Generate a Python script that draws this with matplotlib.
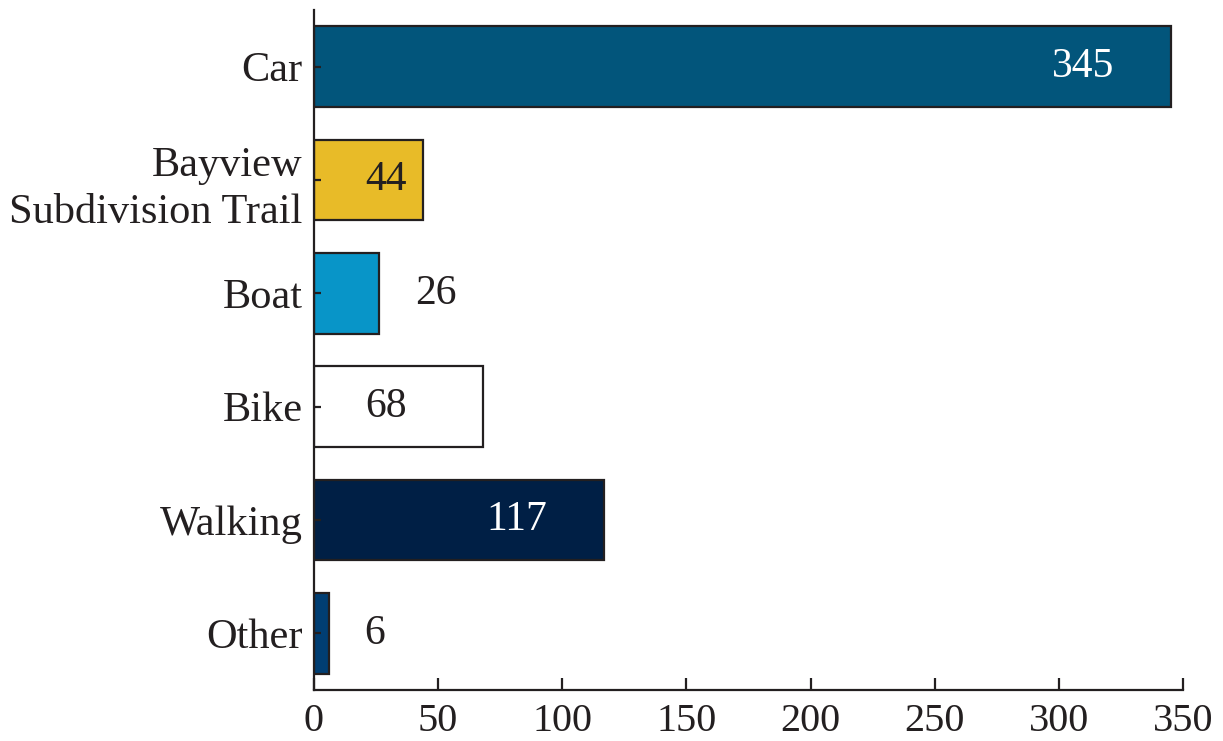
import matplotlib.pyplot as plt

# Data
categories = ["Car", "Bayview\nSubdivision Trail", "Boat", "Bike", "Walking", "Other"]
counts = [345, 44, 26, 68, 117, 6]
bar_colors = ["#02557B", "#E8BB28", "#0895C8", "#FFFFFF", "#001F45", "#003E73"]
text_colors = ["white", "#231f20", "#231f20", "#231f20", "white", "#231f20"]
# label offset from bar end, in pixels
label_offsets = [-87, -37, 57, -97, -88, 46]

plt.rcParams['font.family'] = ['Liberation Serif', 'DejaVu Serif']
ink = "#231f20"

fig = plt.figure(figsize=(12.23, 7.41), dpi=100)
ax = fig.add_axes([0.2567, 0.0688, 0.9673 - 0.2567, 0.9865 - 0.0688])

ypos = list(range(len(categories)))[::-1]
ax.barh(ypos, counts, height=0.71, color=bar_colors, edgecolor=ink, linewidth=1.6)

for y, v, c, off in zip(ypos, counts, text_colors, label_offsets):
    ax.annotate(str(v), xy=(v, y), xytext=(off * 0.72, 0), textcoords="offset points",
                ha="center", va="center", fontsize=30, color=c)

ax.set_xlim(0, 350)
ax.set_ylim(-0.5, 5.5)
ax.set_yticks(ypos)
ax.set_yticklabels(categories, fontsize=30.5, color=ink, linespacing=1.3)
ax.set_xticks(range(0, 351, 50))
ax.tick_params(axis="x", labelsize=29, colors=ink, direction="in", length=9, width=1.6, pad=9)
ax.tick_params(axis="y", colors=ink, direction="in", length=5, width=1.6, pad=8)

for s in ["top", "right"]:
    ax.spines[s].set_visible(False)
for s in ["left", "bottom"]:
    ax.spines[s].set_color(ink)
    ax.spines[s].set_linewidth(1.6)

fig.savefig("out.png", dpi=100)
